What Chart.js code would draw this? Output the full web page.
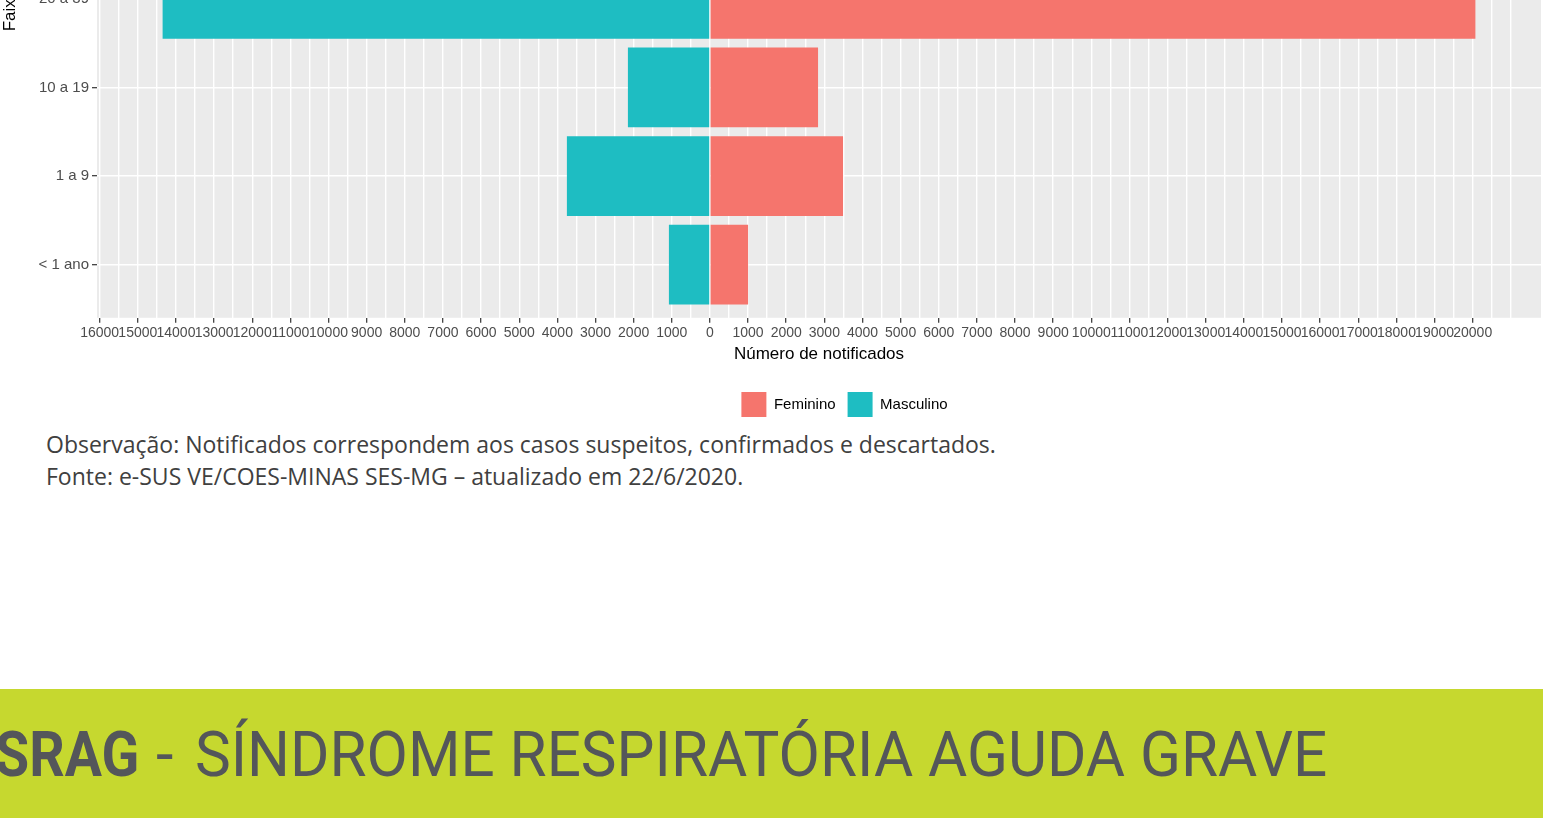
<!DOCTYPE html>
<html>
<head>
<meta charset="utf-8">
<script src="https://cdn.jsdelivr.net/npm/chart.js@4"></script>
<style>
  html, body { margin: 0; padding: 0; background: #fff; overflow: hidden; width: 1543px; height: 818px; }
  #wrap { position: absolute; left: 0; top: -360px; width: 1543px; height: 787px; }
  .nota { position: absolute; left: 46px; font-family: "Open Sans", sans-serif; font-size: 23px; color: #404040; white-space: nowrap; }
  #faixa { position: absolute; left: 0; top: 689px; width: 1543px; height: 129px; background: #c6d82f; overflow: hidden; }
  #faixa span { position: absolute; top: 29px; font-family: Roboto, sans-serif; font-size: 63px; color: #54565a; white-space: nowrap; transform-origin: 0 0; }
</style>
</head>
<body>
<div id="wrap"><canvas id="piramide"></canvas></div>
<div class="nota" style="top:428px">Observação: Notificados correspondem aos casos suspeitos, confirmados e descartados.</div>
<div class="nota" style="top:460px">Fonte: e-SUS VE/COES-MINAS SES-MG – atualizado em 22/6/2020.</div>
<div id="faixa">
  <span style="left:-5px; font-weight:bold; transform:scaleX(0.88)">SRAG</span>
  <span style="left:156px">-</span>
  <span style="left:195px; transform:scaleX(0.955)">SÍNDROME RESPIRATÓRIA AGUDA GRAVE</span>
</div>
<script>
// faixas visiveis (de baixo para cima)
const faixas = ['< 1 ano', '1 a 9', '10 a 19', '20 a 39'];
const feminino = [1000, 3490, 2835, 20070];
const masculino = [-1075, -3750, -2150, -14350];
const ticksX = [];
for (let v = -16000; v <= 21000; v += 500) ticksX.push(v);

const fundo = {
  id: 'fundo',
  beforeDraw(chart) {
    const a = chart.chartArea, ctx = chart.ctx;
    ctx.save();
    ctx.fillStyle = '#ebebeb';
    ctx.fillRect(a.left, a.top, a.right - a.left, a.bottom - a.top);
    ctx.restore();
  }
};
// legenda do ggplot fica um pouco a direita
const moveLegenda = {
  id: 'moveLegenda',
  afterLayout(chart) {
    chart.legend.left += 74;
    chart.legend.right += 74;
  }
};

const rotulo = v => (v % 1000 === 0 && v <= 20000);

const config = {
  type: 'bar',
  data: {
    datasets: [{
      label: 'Feminino',
      backgroundColor: '#f5756d',
      data: faixas.map((f, i) => ({ x: feminino[i], y: i })),
    }, {
      label: 'Masculino',
      backgroundColor: '#1ebdc2',
      data: faixas.map((f, i) => ({ x: masculino[i], y: i })),
    }]
  },
  options: {
    indexAxis: 'y',
    responsive: true,
    maintainAspectRatio: false,
    animation: false,
    layout: { padding: { top: 16, right: 2, left: 0, bottom: 0 } },
    datasets: { bar: { grouped: false, barPercentage: 0.9, categoryPercentage: 1 } },
    plugins: {
      tooltip: { enabled: false },
      legend: {
        position: 'bottom',
        labels: {
          boxWidth: 25, boxHeight: 25, padding: 12, color: '#000',
          font: { family: '"Liberation Sans", Arial, sans-serif', size: 15 }
        }
      }
    },
    scales: {
      x: {
        type: 'linear', min: -16070, max: 21790,
        afterBuildTicks: s => { s.ticks = ticksX.map(v => ({ value: v })); },
        border: { display: false },
        grid: {
          color: '#ffffff', lineWidth: 1.4, tickLength: 5, tickWidth: 1.2,
          tickColor: c => rotulo(c.tick.value) ? '#333333' : 'rgba(0,0,0,0)'
        },
        ticks: {
          autoSkip: false, maxRotation: 0, minRotation: 0, padding: 2, color: '#4d4d4d',
          font: { family: '"Liberation Sans", Arial, sans-serif', size: 14 },
          callback: v => rotulo(v) ? String(Math.abs(v)) : ''
        },
        title: {
          display: true, text: 'Número de notificados', color: '#000',
          font: { family: '"Liberation Sans", Arial, sans-serif', size: 17 },
          padding: { top: 1, bottom: 15 }
        }
      },
      y: {
        type: 'linear', min: -0.6, max: 6.87, offset: false,
        afterBuildTicks: s => { s.ticks = faixas.map((f, i) => ({ value: i })); },
        afterFit: s => { s.width = 97; },
        border: { display: false },
        grid: { offset: false, color: '#ffffff', lineWidth: 1.4, tickLength: 5, tickWidth: 1.2, tickColor: '#333333' },
        ticks: {
          padding: 3, color: '#4d4d4d',
          font: { family: '"Liberation Sans", Arial, sans-serif', size: 15 },
          callback: v => faixas[v]
        },
        title: {
          display: true, text: 'Faixa etária', color: '#000',
          font: { family: '"Liberation Sans", Arial, sans-serif', size: 17 },
          padding: 0
        }
      }
    }
  },
  plugins: [fundo, moveLegenda]
};

var piramide = new Chart(document.getElementById('piramide'), config);
</script>
</body>
</html>
